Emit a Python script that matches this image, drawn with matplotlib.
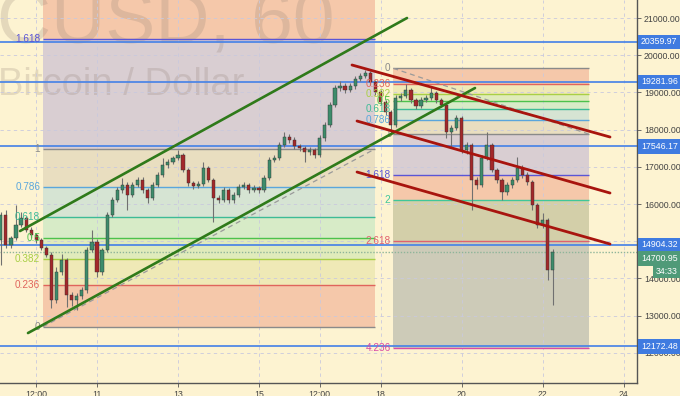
import matplotlib.pyplot as plt
from matplotlib.patches import Rectangle
from matplotlib.transforms import blended_transform_factory, offset_copy

plt.rcParams['font.family'] = ['Liberation Sans', 'DejaVu Sans']

# DATA
# 3-hour candles, x in days of December, prices in USD
t_start = 8.625
t_step = 0.125
first_open = 15030
closes = [15705, 14898, 15086, 15436, 15624, 15302, 15168, 15033, 14818, 14630,
          13420, 14172, 14495, 13554, 13420, 13527, 13689, 14764, 14979, 14172,
          14764, 15705, 16108, 16377, 16511, 16242, 16511, 16646, 16377, 16162,
          16511, 16780, 17049, 17129, 17237, 17318, 16914, 16565, 16484, 16538,
          16968, 16646, 16162, 16108, 16377, 16108, 16242, 16457, 16511, 16377,
          16430, 16377, 16699, 17183, 17237, 17586, 17801, 17721, 17559, 17506,
          17398, 17452, 17318, 17774, 18124, 18662, 19119, 19172, 19065, 19172,
          19360, 19441, 19522, 19280, 19011, 18742, 18473, 18124, 18850, 18904,
          19065, 18796, 18635, 18796, 18850, 18984, 18796, 18662, 17936, 18043,
          18312, 17452, 17586, 16646, 16511, 17237, 17586, 16914, 16646, 16323,
          16511, 16646, 16968, 16780, 16592, 15974, 15436, 15570, 14226, 14710]
highs = [15790, 15840, 15150, 15970, 15785, 15680, 15380, 15230, 15090, 14880,
         14700, 14300, 14657, 14560, 13640, 13600, 13770, 14850, 15300, 15050,
         14830, 15790, 16200, 16450, 16700, 16580, 16580, 16720, 16720, 16440,
         16580, 16850, 17240, 17200, 17300, 17452, 17380, 16980, 16620, 16610,
         17130, 17030, 16700, 16230, 16450, 16440, 16310, 16530, 16580, 16570,
         16500, 16490, 16770, 17260, 17320, 17660, 17940, 17880, 17790, 17620,
         17570, 17520, 17500, 17850, 18200, 18750, 19200, 19300, 19240, 19250,
         19440, 19520, 19602, 19570, 19330, 19060, 18800, 18530, 18930, 18990,
         19230, 19120, 18850, 18870, 18930, 19170, 19040, 18850, 18720, 18120,
         18400, 18370, 17660, 17640, 16720, 17320, 17940, 17640, 16980, 16700,
         16580, 16720, 17264, 17040, 16850, 16650, 16030, 15758, 15630, 14790]
lows = [14360, 14820, 14820, 15030, 15380, 15250, 15100, 14950, 14760, 14570,
        13200, 13350, 14100, 13230, 13258, 13150, 13450, 13620, 14700, 14040,
        14100, 14700, 15650, 16050, 16300, 15840, 16180, 16450, 16300, 16027,
        16100, 16450, 16720, 16980, 17070, 17180, 16850, 16490, 16400, 16420,
        16480, 16580, 15520, 16020, 16050, 16040, 16030, 16190, 16400, 16300,
        16320, 16300, 16320, 16640, 17120, 17180, 17520, 17650, 17480, 17420,
        17130, 17330, 17240, 17260, 17700, 18060, 18600, 19050, 18980, 19000,
        19100, 19300, 19380, 19200, 18930, 18650, 18380, 17855, 18060, 18780,
        18840, 18720, 18560, 18580, 18730, 18790, 18720, 18600, 17770, 17500,
        17980, 17380, 17350, 15840, 16400, 16450, 17170, 16850, 16560, 16100,
        16250, 16430, 16580, 16700, 16520, 15840, 15350, 15350, 13960, 13286]

h_levels = [20359.97, 19281.96, 17546.17, 14904.32, 12172.48]
last_price = 14700.95
countdown = "34:33"

fib_ratios = [0, 0.236, 0.382, 0.5, 0.618, 0.786, 1, 1.618, 2, 2.618, 4.236]
fib_texts = ["0", "0.236", "0.382", "0.5", "0.618", "0.786", "1", "1.618", "2", "2.618", "4.236"]
left_fib = dict(x0=9.667, x1=17.86, p0=12702, p1=17478)
right_fib = dict(x0=18.316, x1=23.156, p0=19648, p1=17874)

green_lines = [((9.099, 15274), (18.654, 21000)),
               ((9.296, 12532), (20.333, 19118))]
red_lines = [((17.296, 19737), (23.667, 17801)),
             ((17.42, 18231), (23.667, 16296)),
             ((17.42, 16860), (23.667, 14925))]

xtick_pos = [9.5, 11, 13, 15, 16.5, 18, 20, 22, 24]
xtick_lab = ["12:00", "11", "13", "15", "12:00", "18", "20", "22", "24"]
ytick_pos = [12000, 13000, 14000, 15000, 16000, 17000, 18000, 19000, 20000, 21000]


# STYLE
bg = "#fdf3d1"
band_colors = ["#f5c8aa", "#efe9b6", "#e0ebbb", "#d7ebc7", "#d6e4d3", "#e9dec0",
               "#d9ced2", "#f5c8aa", "#d3cfa9", "#cdcbb8"]
level_colors = ["#8a8a8a", "#e0645c", "#a9cf45", "#4cc24c", "#3dbb96", "#5aa6dc",
                "#8a8a8a", "#5b55d6", "#3fc79a", "#e0606e", "#d94aa5"]
up_col, down_col, wick_col = "#3d8c6b", "#a3282a", "#707070"
hline_col = "#4a84e6"
axis_col = "#555555"

fig = plt.figure(figsize=(6.8, 3.96), dpi=100)
fig.patch.set_facecolor(bg)
ax = fig.add_axes([0, 13 / 396, 637 / 680, 383 / 396])
ax.set_facecolor(bg)
ax.set_xlim(8.605, 24.333)
ax.set_ylim(11189, 21484)
ax.set_axisbelow('line')


def draw_fib(f):
    prices = [f['p0'] + r * (f['p1'] - f['p0']) for r in fib_ratios]
    for k in range(len(prices) - 1):
        lo, hi = sorted([prices[k], prices[k + 1]])
        ax.add_patch(Rectangle((f['x0'], lo), f['x1'] - f['x0'], hi - lo,
                               facecolor=band_colors[k], edgecolor='none', zorder=0.5))
    lab_tr = offset_copy(ax.transData, fig=fig, x=-2, y=0, units='points')
    for k, p in enumerate(prices):
        ax.hlines(p, f['x0'], f['x1'], color=level_colors[k], lw=1.0, zorder=1.6)
        ax.text(f['x0'], p, fib_texts[k], color=level_colors[k], fontsize=7.2,
                ha='right', va='center', transform=lab_tr, zorder=4, clip_on=True)
    ax.plot([f['x0'], f['x1']], [prices[0], prices[6]], ls=(0, (4, 3)),
            color='#9a9a9a', lw=0.9, zorder=1.7)


draw_fib(left_fib)
draw_fib(right_fib)

# watermark
ax.text(-0.004, 1.03, "CUSD, 60", transform=ax.transAxes, fontsize=54,
        color='#8c7b70', alpha=0.22, ha='left', va='top', zorder=1.2, clip_on=True)
ax.text(-0.003, 0.752, "Bitcoin / Dollar", transform=ax.transAxes, fontsize=27.5,
        color='#8c7b70', alpha=0.22, ha='left', va='baseline', zorder=1.2, clip_on=True)

ax.grid(True, ls=(0, (4, 4)), color='#c9c9dd', lw=0.6)

for p in h_levels:
    ax.axhline(p, color=hline_col, lw=1.25, zorder=2)
ax.axhline(last_price, color='#8fb59a', lw=1.0, ls=(0, (1, 1.2)), zorder=2)

# candles
opens = [first_open] + closes[:-1]
xs = [t_start + i * t_step for i in range(len(closes))]
ax.vlines(xs, lows, highs, color=wick_col, lw=0.8, zorder=3)
for x, o, c in zip(xs, opens, closes):
    col = up_col if c >= o else down_col
    ax.bar(x, abs(c - o) if abs(c - o) > 20 else 20, bottom=min(o, c), width=0.08,
           color=col, edgecolor='#2f2f2f', lw=0.3, zorder=3.2)

for (a, b) in green_lines:
    ax.plot([a[0], b[0]], [a[1], b[1]], color='#2f7a1a', lw=1.9, zorder=4,
            solid_capstyle='round')
for (a, b) in red_lines:
    ax.plot([a[0], b[0]], [a[1], b[1]], color='#a8140e', lw=2.0, zorder=4,
            solid_capstyle='round')

# axes cosmetics
for s in ['top', 'left']:
    ax.spines[s].set_visible(False)
for s in ['right', 'bottom']:
    ax.spines[s].set_color(axis_col)
    ax.spines[s].set_linewidth(1.0)
ax.yaxis.tick_right()
ax.set_yticks(ytick_pos)
ax.set_yticklabels(["%.2f" % v for v in ytick_pos])
ax.set_xticks(xtick_pos)
ax.set_xticklabels(xtick_lab)
ax.tick_params(axis='both', labelsize=6.3, colors=axis_col, length=3, width=0.6, pad=2)
for lab in ax.get_xticklabels() + ax.get_yticklabels():
    lab.set_color('#444444')

# price labels on the axis
tr = blended_transform_factory(ax.transAxes, ax.transData)
for p in h_levels:
    ax.text(1.006, p, "%.2f" % p, transform=tr, ha='left', va='center', fontsize=6.3,
            color='white', zorder=6, clip_on=False,
            bbox=dict(boxstyle='square,pad=0.3', fc='#3f7be0', ec='none'))
tr_last = offset_copy(tr, fig=fig, x=0, y=-4.5, units='points')
ax.text(1.006, last_price, "%.2f" % last_price, transform=tr_last, ha='left', va='center',
        fontsize=6.3, color='white', zorder=6, clip_on=False,
        bbox=dict(boxstyle='square,pad=0.3', fc='#4f9a78', ec='none'))
tr_cd = offset_copy(tr, fig=fig, x=0, y=-13.5, units='points')
ax.text(1.03, last_price, countdown, transform=tr_cd, ha='left', va='center',
        fontsize=6.3, color='white', zorder=6, clip_on=False,
        bbox=dict(boxstyle='square,pad=0.3', fc='#4f9a78', ec='none'))

fig.savefig('out.png', dpi=100, facecolor=bg)
